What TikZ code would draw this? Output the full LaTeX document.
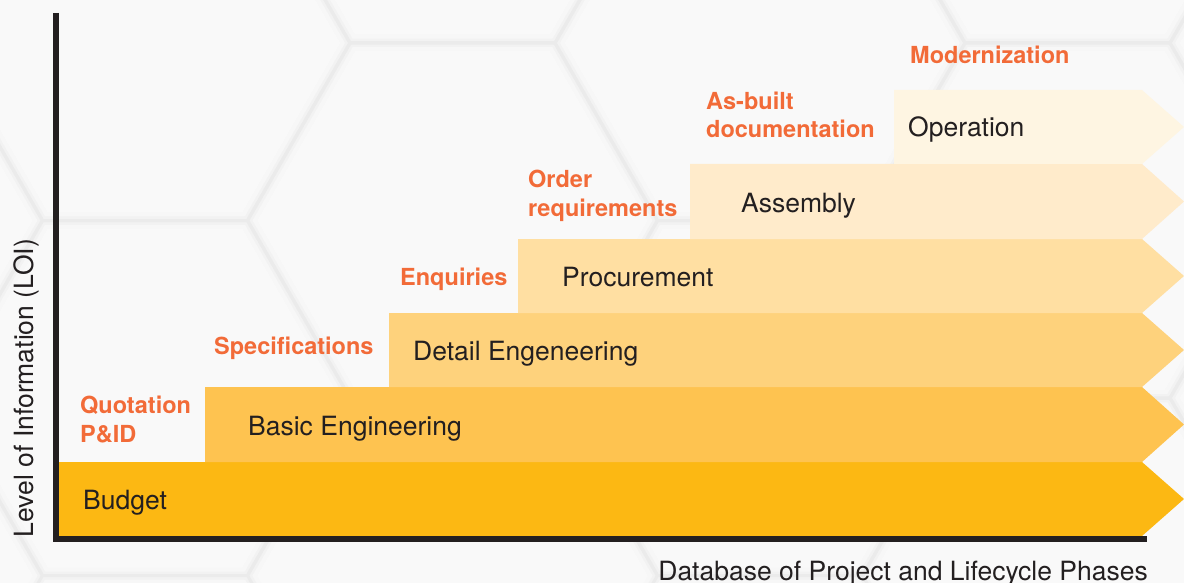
\documentclass[tikz,border=0pt]{standalone}
\usepackage{fontspec}
\setmainfont{TeX Gyre Heros}
\definecolor{ink}{HTML}{231F20}
\definecolor{accent}{HTML}{F26B38}
\definecolor{paper}{HTML}{F9F9F9}
\definecolor{phaseA}{HTML}{FCB813}
\definecolor{phaseB}{HTML}{FEC350}
\definecolor{phaseC}{HTML}{FED27C}
\definecolor{phaseD}{HTML}{FFDFA2}
\definecolor{phaseE}{HTML}{FFEBCB}
\definecolor{phaseF}{HTML}{FEF5E2}
\tikzset{
  phase/.style={anchor=base west, text=ink, inner sep=0pt,
    font=\fontsize{26.5}{30}\selectfont},
  output/.style={anchor=base west, text=accent, inner sep=0pt, align=left,
    font=\fontsize{23.5}{28.5}\bfseries\selectfont},
  axisline/.style={draw=ink, line width=6pt, line join=miter},
  hexshade/.style={draw=black!3, line width=16pt},
  hexsoft/.style={draw=black!5, line width=8pt},
  hexline/.style={draw=black!8, line width=3pt},
}
% arrow-shaped band: left x, top y, bottom y, colour
\newcommand\phaseband[4]{%
  \fill[#4] (#1,#2) -- (1142,#2) -- (1184,{(#2+#3)/2}) -- (1142,#3) -- (#1,#3) -- cycle;}
\begin{document}
\begin{tikzpicture}[x=1pt,y=-1pt]
\useasboundingbox (0,0) rectangle (1184,583);

% honeycomb backdrop
\begin{scope}
  \clip (0,0) rectangle (1184,583);
  \fill[paper] (0,0) rectangle (1184,583);
  \foreach \st in {hexshade,hexsoft,hexline}{
    \foreach \cx/\cy in {-162.5/220.5,-162.5/575.5,145/43,145/398,
                         452.5/-134.5,452.5/220.5,452.5/575.5,
                         760/43,760/398,1067.5/-134.5,1067.5/220.5,
                         1067.5/575.5,1375/43,1375/398}{
      \draw[\st] ({\cx+205},\cy) -- ({\cx+102.5},{\cy+177.5})
        -- ({\cx-102.5},{\cy+177.5}) -- ({\cx-205},\cy)
        -- ({\cx-102.5},{\cy-177.5}) -- ({\cx+102.5},{\cy-177.5}) -- cycle;
    }
  }
\end{scope}

% lifecycle phase bands
\phaseband{59}{462}{536}{phaseA}
\phaseband{205}{387}{462}{phaseB}
\phaseband{389}{313}{387}{phaseC}
\phaseband{518}{239}{313}{phaseD}
\phaseband{690}{164}{239}{phaseE}
\phaseband{894}{90}{164}{phaseF}

% axes
\draw[axisline] (56,13) coordinate (ytop) -- (56,539) coordinate (origin) -- (1147,539) coordinate (xend);

% phase names
\node[phase] (budget)  at (83,509)  {Budget};
\node[phase] (basic)   at (248,435) {Basic Engineering};
\node[phase] (detail)  at (413,360) {Detail Engeneering};
\node[phase] (procure) at (562,286) {Procurement};
\node[phase] (assembly) at (741,212) {Assembly};
\node[phase] (operation) at (908,137) {Operation};

% deliverables between phases (two-line ones sit on their last baseline)
\node[output] (quote)  at (80,442)  {Quotation\\P\&ID};
\node[output] (spec)   at (214,354) {Specifications};
\node[output] (enq)    at (400,285) {Enquiries};
\node[output] (order)  at (528,216) {Order\\requirements};
\node[output] (asbuilt) at (706,138) {As-built\\documentation};
\node[output] (modern) at (910,64)  {Modernization};

% axis titles
\node[text=ink, inner sep=0pt, anchor=base, rotate=90,
      font=\fontsize{26.5}{30}\selectfont] (yaxis) at (33,388) {Level of Information (LOI)};
\node[text=ink, inner sep=0pt, anchor=base east,
      font=\fontsize{26.5}{30}\selectfont] (xaxis) at (1148,580) {Database of Project and Lifecycle Phases};
\end{tikzpicture}
\end{document}
